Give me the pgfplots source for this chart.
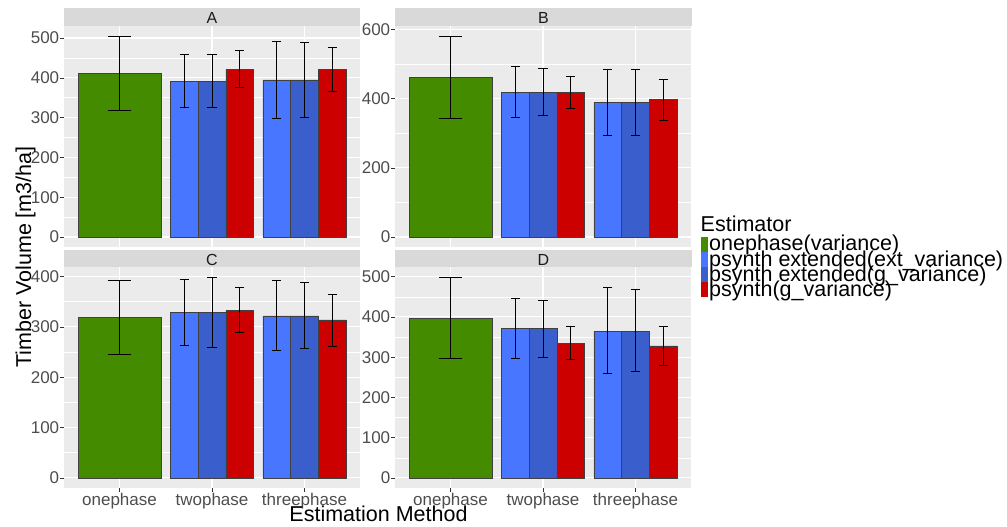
\documentclass[border=0pt]{standalone}
\usepackage{pgfplots}
\pgfplotsset{compat=1.18}
\usepackage{fontspec}
\setmainfont{Liberation Sans}
\definecolor{panelbg}{HTML}{EBEBEB}
\definecolor{stripbg}{HTML}{D9D9D9}
\definecolor{ticklab}{HTML}{4D4D4D}
\definecolor{striptext}{HTML}{1A1A1A}
\definecolor{cGreen}{HTML}{458B00}
\definecolor{cLight}{HTML}{4876FF}
\definecolor{cMid}{HTML}{3A5FCD}
\definecolor{cRed}{HTML}{CD0000}
\pgfplotsset{
  facet/.style={
    scale only axis, width=296bp, height=221bp,
    xmin=0.4, xmax=3.6,
    axis background/.style={fill=panelbg},
    axis line style={draw=none},
    xtick={1,2,3},
    ytick pos=left, xtick pos=bottom,
    grid=both,
    major grid style={white, line width=1.1bp},
    minor grid style={white, line width=0.55bp},
    tick align=outside,
    major tick length=3.6bp,
    minor tick length=0pt,
    tick style={color=black!80, line width=0.55bp},
    every tick label/.append style={font=\fontsize{17bp}{20bp}\selectfont, text=ticklab},
    yticklabel style={inner sep=1bp},
    xticklabel style={inner sep=1bp},
    /pgf/number format/assume math mode=true,
    /pgf/number format/1000 sep={},
  },
  toprow/.style={xticklabels={}, xtick style={draw=none}},
  botrow/.style={xticklabels={onephase,twophase,threephase}},
  bars/.style={ybar, bar shift=0pt, draw=black!75, line width=0.6bp,
    error bars/y dir=both, error bars/y explicit,
    error bars/error bar style={line width=0.8bp, black},
    error bars/error mark options={rotate=90, line width=0.8bp, black, mark size=4.6bp}},
  wide/.style={bars, bar width=0.9, error bars/error mark options={rotate=90, line width=0.8bp, black, mark size=11.5bp}},
  narrow/.style={bars, bar width=0.3},
}
\begin{document}
\begin{tikzpicture}
\useasboundingbox (0,0) rectangle (1007bp,-527bp);
% ---------- A ----------
\begin{axis}[facet, toprow, at={(64bp,-26bp)}, anchor=north west,
  ymin=-25.25, ymax=530.25, ytick={0,100,...,500}, minor ytick={50,150,...,450}]
\addplot[wide, fill=cGreen] table[x=x,y=y,y error plus=ep,y error minus=em] {
x y ep em
1 411 94 94
};
\addplot[narrow, fill=cLight] table[x=x,y=y,y error plus=ep,y error minus=em] {
x y ep em
1.7 392 66 67
2.7 395 97 97
};
\addplot[narrow, fill=cMid] table[x=x,y=y,y error plus=ep,y error minus=em] {
x y ep em
2 392 66 67
3 395 95 95
};
\addplot[narrow, fill=cRed] table[x=x,y=y,y error plus=ep,y error minus=em] {
x y ep em
2.3 421 48 46
3.3 421 56 54
};
\end{axis}
% ---------- B ----------
\begin{axis}[facet, toprow, at={(395bp,-26bp)}, anchor=north west,
  ymin=-29, ymax=610, ytick={0,200,...,600}, minor ytick={100,300,500}]
\addplot[wide, fill=cGreen] table[x=x,y=y,y error plus=ep,y error minus=em] {
x y ep em
1 461 120 118
};
\addplot[narrow, fill=cLight] table[x=x,y=y,y error plus=ep,y error minus=em] {
x y ep em
1.7 418 75 72
2.7 389 95 95
};
\addplot[narrow, fill=cMid] table[x=x,y=y,y error plus=ep,y error minus=em] {
x y ep em
2 418 69 66
3 389 95 94
};
\addplot[narrow, fill=cRed] table[x=x,y=y,y error plus=ep,y error minus=em] {
x y ep em
2.3 418 47 46
3.3 397 58 59
};
\end{axis}
% ---------- C ----------
\begin{axis}[facet, botrow, at={(64bp,-267bp)}, anchor=north west,
  ymin=-20, ymax=419, ytick={0,100,...,400}, minor ytick={50,150,...,350}]
\addplot[wide, fill=cGreen] table[x=x,y=y,y error plus=ep,y error minus=em] {
x y ep em
1 319 74 73
};
\addplot[narrow, fill=cLight] table[x=x,y=y,y error plus=ep,y error minus=em] {
x y ep em
1.7 329 66 65
2.7 322 71 68
};
\addplot[narrow, fill=cMid] table[x=x,y=y,y error plus=ep,y error minus=em] {
x y ep em
2 329 70 69
3 322 67 64
};
\addplot[narrow, fill=cRed] table[x=x,y=y,y error plus=ep,y error minus=em] {
x y ep em
2.3 333 45 43
3.3 314 51 52
};
\end{axis}
% ---------- D ----------
\begin{axis}[facet, botrow, at={(395bp,-267bp)}, anchor=north west,
  ymin=-25, ymax=524, ytick={0,100,...,500}, minor ytick={50,150,...,450}]
\addplot[wide, fill=cGreen] table[x=x,y=y,y error plus=ep,y error minus=em] {
x y ep em
1 396 103 100
};
\addplot[narrow, fill=cLight] table[x=x,y=y,y error plus=ep,y error minus=em] {
x y ep em
1.7 371 76 75
2.7 365 108 105
};
\addplot[narrow, fill=cMid] table[x=x,y=y,y error plus=ep,y error minus=em] {
x y ep em
2 371 71 71
3 365 103 101
};
\addplot[narrow, fill=cRed] table[x=x,y=y,y error plus=ep,y error minus=em] {
x y ep em
2.3 335 41 41
3.3 328 49 49
};
\end{axis}
% ---------- strips ----------
\fill[stripbg] (64bp,-8bp) rectangle (360bp,-26bp);
\fill[stripbg] (395bp,-8bp) rectangle (692bp,-26bp);
\fill[stripbg] (64bp,-250bp) rectangle (360bp,-267bp);
\fill[stripbg] (395bp,-250bp) rectangle (692bp,-267bp);
\begin{scope}[every node/.style={anchor=base, inner sep=0pt, text=striptext, font=\fontsize{16bp}{19bp}\selectfont}]
\node at (212bp,-23.3bp) {A};
\node at (543.5bp,-23.3bp) {B};
\node at (212bp,-265bp) {C};
\node at (543.5bp,-265bp) {D};
\end{scope}
% ---------- axis titles ----------
\node[anchor=base, inner sep=0pt, rotate=90, font=\fontsize{21.5bp}{25bp}\selectfont] at (31bp,-257bp) {Timber Volume [m3/ha]};
\node[anchor=base, inner sep=0pt, font=\fontsize{21.5bp}{25bp}\selectfont] at (378.5bp,-521.7bp) {Estimation Method};
% ---------- legend ----------
\node[anchor=base west, inner sep=0pt, font=\fontsize{21.5bp}{25bp}\selectfont] at (700.5bp,-231.7bp) {Estimator};
\fill[cGreen] (701bp,-236.5bp) rectangle (708.3bp,-251.7bp);
\fill[cLight] (701bp,-251.7bp) rectangle (708.3bp,-266.9bp);
\fill[cMid] (701bp,-266.9bp) rectangle (708.3bp,-282.1bp);
\fill[cRed] (701bp,-282.1bp) rectangle (708.3bp,-297.3bp);
\begin{scope}[every node/.style={anchor=base west, inner sep=0pt, font=\fontsize{21.5bp}{25bp}\selectfont}]
\node at (709bp,-250bp) {onephase(variance)};
\node at (709bp,-266.2bp) {psynth extended(ext\_variance)};
\node at (709bp,-281.8bp) {psynth extended(g\_variance)};
\node at (709bp,-296.8bp) {psynth(g\_variance)};
\end{scope}
\end{tikzpicture}
\end{document}
